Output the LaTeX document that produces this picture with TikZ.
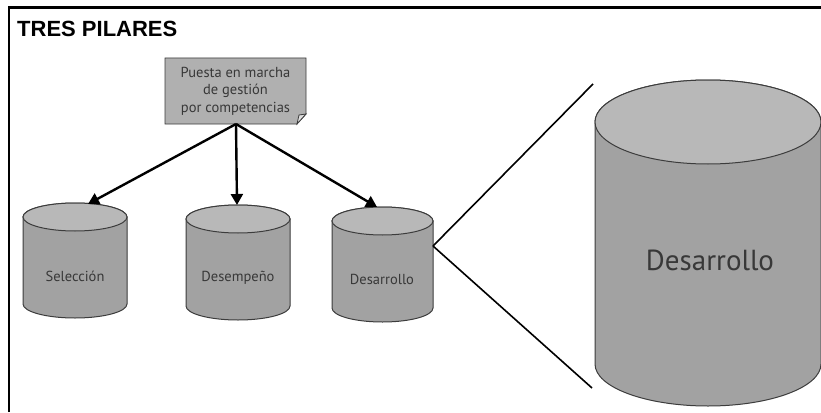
\documentclass[tikz,border=0pt]{standalone}
\usepackage{fontspec}
\setmainfont{PT Sans}
\newfontfamily\titlefont{Liberation Sans}
\usetikzlibrary{arrows.meta}
\definecolor{bodyc}{HTML}{A2A2A2}
\definecolor{topc}{HTML}{B8B8B8}
\definecolor{edgec}{HTML}{3C3C3C}
\definecolor{txtc}{HTML}{383838}
\definecolor{notec}{HTML}{B0B0B0}
\newcommand\drawcyl[5]{%
 \filldraw[cylbody] ({#1-#2/2},{-#3}) -- ({#1-#2/2},{-#4}) arc[start angle=180,end angle=360,x radius=#2/2*1pt,y radius=#5*1pt] -- ({#1+#2/2},{-#3}) arc[start angle=0,end angle=180,x radius=#2/2*1pt,y radius=#5*1pt] -- cycle;
 \filldraw[cyltop] (#1,{-#3}) ellipse[x radius=#2/2*1pt, y radius=#5*1pt];
}
\tikzset{
 cylbody/.style={fill=bodyc, draw=edgec, line width=1pt},
 cyltop/.style={fill=topc, draw=edgec, line width=1pt},
 cyllabel/.style={text=txtc, font=\fontsize{14.5}{16}\selectfont, inner sep=0pt},
 arr/.style={line width=2.4pt, -{Triangle[length=11pt,width=12pt]}},
 zoomline/.style={line width=1.6pt, black},
 frameline/.style={line width=2.4pt, black},
}
\begin{document}
\begin{tikzpicture}[x=1pt,y=1pt]
\useasboundingbox (0,0) rectangle (821,-412);
\fill[white] (0,0) rectangle (821,-412);
% frame
\draw[frameline] (9,-412) -- (9,-7.5) -- (821,-7.5);
% title
\node[anchor=west, inner sep=0pt, font=\titlefont\bfseries\fontsize{22}{24}\selectfont] (title) at (17,-29) {TRES PILARES};
% note box
\filldraw[fill=notec, draw=edgec, line width=0.8pt] (165,-58) -- (306,-58) -- (306,-114) -- (297,-124) -- (165,-124) -- cycle;
\filldraw[fill=white!60!notec, draw=edgec, line width=0.8pt] (306,-114) -- (297,-124) -- (299,-115) -- cycle;
\node[text=txtc, align=center, font=\fontsize{14.5}{17.5}\selectfont, inner sep=0pt] (note) at (235.5,-91) {Puesta en marcha\\de gestión\\por competencias};
\coordinate (noteb) at (236,-124);
% small cylinders
\drawcyl{75}{104}{217}{304}{14}
\drawcyl{238}{104}{219}{306}{14}
\drawcyl{382.5}{101}{221}{308}{14}
\node[cyllabel] (sel) at (75,-276) {Selección};
\node[cyllabel] (des) at (238,-278) {Desempeño};
\node[cyllabel] (dsr) at (382,-279) {Desarrollo};
\coordinate (selt) at (88,-204);
\coordinate (dest) at (237,-205);
\coordinate (dsrt) at (377,-207);
% arrows
\draw[arr] (noteb) -- (selt);
\draw[arr] (noteb) -- (dest);
\draw[arr] (noteb) -- (dsrt);
% zoom lines
\coordinate (dsrr) at (433,-246);
\coordinate (zt) at (593,-84);
\coordinate (zb) at (592,-388);
\draw[zoomline] (dsrr) -- (zt);
\draw[zoomline] (dsrr) -- (zb);
% large cylinder
\drawcyl{708}{226}{122}{364}{42}
\node[text=txtc, inner sep=0pt, font=\fontsize{29}{32}\selectfont] (big) at (710,-260) {Desarrollo};
\end{tikzpicture}
\end{document}
